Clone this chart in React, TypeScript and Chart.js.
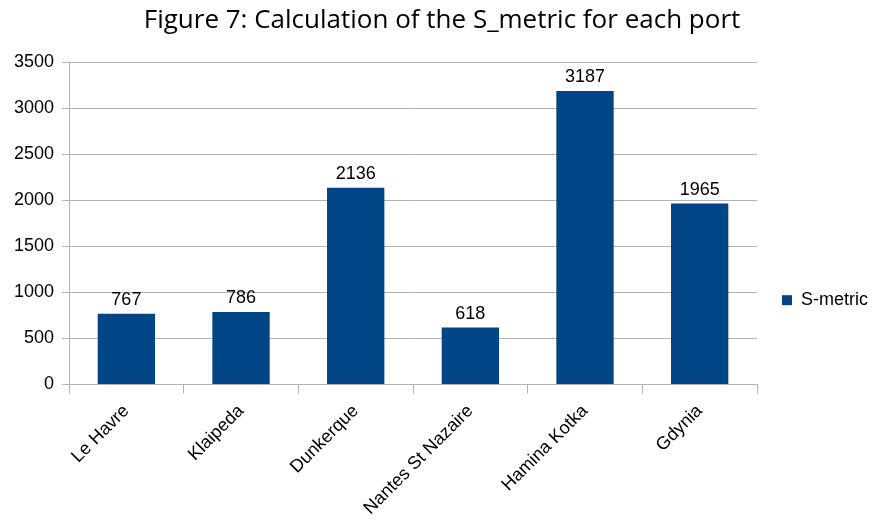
import { useEffect, useRef } from 'react';
import { Chart, registerables } from 'chart.js';

Chart.register(...registerables);

const ports = ['Le Havre', 'Klaipeda', 'Dunkerque', 'Nantes St Nazaire', 'Hamina Kotka', 'Gdynia'];
const sMetric = [767, 786, 2136, 618, 3187, 1965];
const yTicks = [0, 500, 1000, 1500, 2000, 2500, 3000, 3500];

const barColor = '#004586';
const gridColor = '#b3b3b3';
const labelFont = { family: '"Liberation Sans", Arial, sans-serif', size: 18 };

// values above the bars
const valueLabels = {
  id: 'valueLabels',
  afterDatasetsDraw(chart: Chart) {
    const ctx = chart.ctx;
    const meta = chart.getDatasetMeta(0);
    ctx.save();
    ctx.font = `${labelFont.size}px ${labelFont.family}`;
    ctx.fillStyle = '#000';
    ctx.textAlign = 'center';
    ctx.textBaseline = 'alphabetic';
    meta.data.forEach((bar: any, i: number) => {
      ctx.fillText(String(sMetric[i]), bar.x, bar.y - 9);
    });
    ctx.restore();
  },
};

export default function App() {
  const chartRef = useRef<HTMLCanvasElement>(null);
  const chartInstance = useRef<Chart | null>(null);

  useEffect(() => {
    document.body.style.margin = '0';
    if (!chartRef.current) return;
    if (chartInstance.current) chartInstance.current.destroy();

    const ctx = chartRef.current.getContext('2d');
    if (!ctx) return;

    chartInstance.current = new Chart(ctx, {
      type: 'bar',
      data: {
        labels: ports,
        datasets: [
          {
            label: 'S-metric',
            data: sMetric,
            backgroundColor: barColor,
            borderWidth: 0,
            categoryPercentage: 0.5,
            barPercentage: 1,
          },
        ],
      },
      plugins: [valueLabels],
      options: {
        animation: false,
        responsive: true,
        maintainAspectRatio: false,
        layout: { padding: { left: 6, right: -2, top: 0, bottom: -4 } },
        plugins: {
          title: {
            display: true,
            text: 'Figure 7: Calculation of the S_metric for each port',
            color: '#000',
            font: { family: '"Open Sans", sans-serif', size: 26, weight: 'normal' },
            padding: { top: 5, bottom: 26 },
          },
          legend: {
            position: 'right',
            title: { display: true, text: '', font: { size: 12 }, padding: { top: 0, bottom: 60 } },
            labels: {
              boxWidth: 10,
              boxHeight: 10,
              padding: 25,
              color: '#000',
              font: labelFont,
            },
          },
          tooltip: { enabled: false },
        },
        scales: {
          x: {
            grid: {
              offset: true,
              color: (c: any) => (c.index === ports.length ? gridColor : 'transparent'),
              tickColor: gridColor,
              tickLength: 9,
            },
            border: { color: gridColor },
            ticks: {
              color: '#000',
              font: labelFont,
              minRotation: 45,
              maxRotation: 45,
              padding: 7,
            },
          },
          y: {
            min: yTicks[0],
            max: yTicks[yTicks.length - 1],
            grid: { color: gridColor, tickLength: 7 },
            border: { color: gridColor },
            ticks: {
              stepSize: yTicks[1] - yTicks[0],
              color: '#000',
              font: labelFont,
              padding: 8,
              callback: (v: any) => String(v),
            },
          },
        },
      },
    });

    return () => {
      if (chartInstance.current) {
        chartInstance.current.destroy();
        chartInstance.current = null;
      }
    };
  }, []);

  return (
    <div style={{ width: 876, height: 522, position: 'relative' }}>
      <canvas ref={chartRef} />
    </div>
  );
}
